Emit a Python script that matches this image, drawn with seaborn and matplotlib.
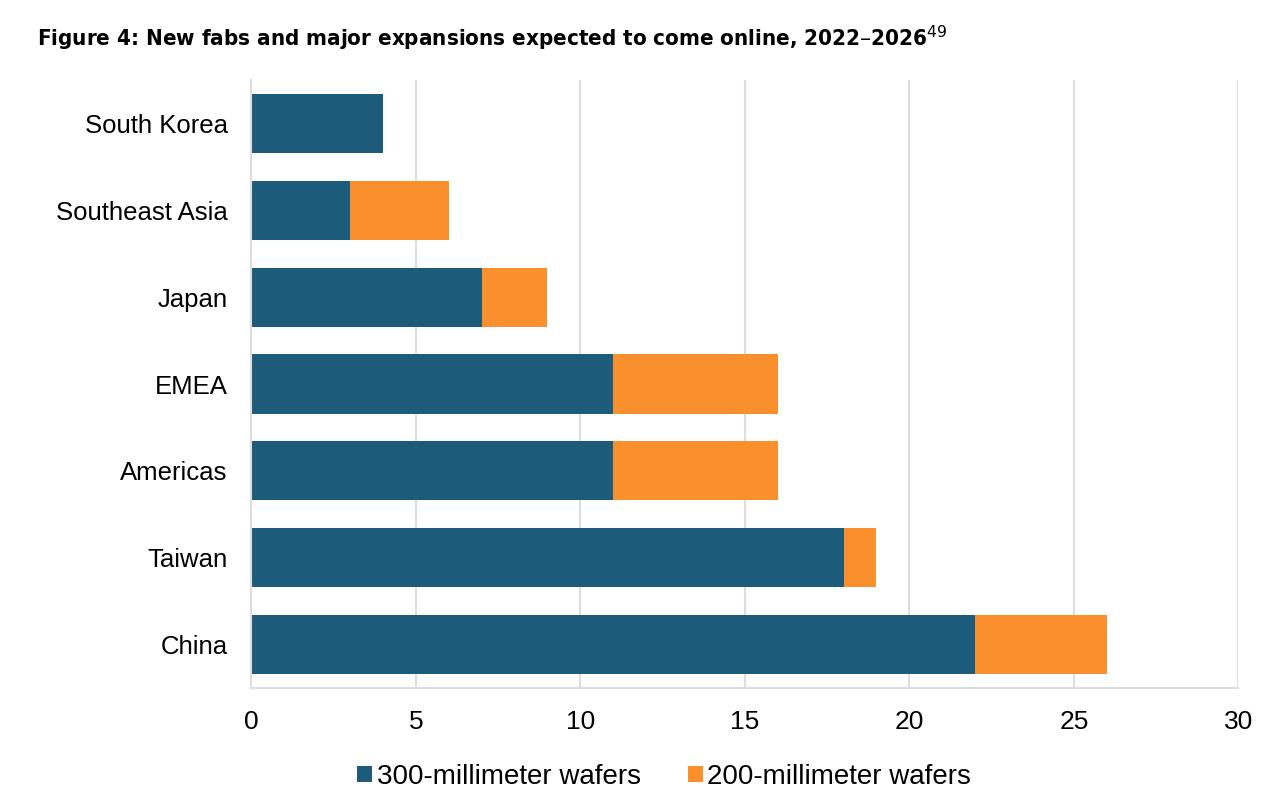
import pandas as pd
import matplotlib.pyplot as plt
import seaborn as sns

regions = ['South Korea', 'Southeast Asia', 'Japan', 'EMEA', 'Americas', 'Taiwan', 'China']
wafers_300 = [4, 3, 7, 11, 11, 18, 22]
wafers_200 = [0, 3, 2, 5, 5, 1, 4]

df = pd.DataFrame({'region': regions, 'w300': wafers_300, 'w200': wafers_200})
df['total'] = df['w300'] + df['w200']

blue = '#1D5B7A'
orange = '#F98F2D'

sns.set_style('white')
plt.rcParams['font.family'] = ['Liberation Sans', 'DejaVu Sans']
plt.rcParams['text.color'] = 'black'
plt.rcParams['xtick.color'] = 'black'
plt.rcParams['ytick.color'] = 'black'

fig = plt.figure(figsize=(12.82, 8), dpi=100)
ax = fig.add_axes([0.196, 0.14, 0.77, 0.76])

# stacked: totals in orange first, then the 300mm part over it
sns.barplot(data=df, y='region', x='total', color=orange, orient='h', width=0.68,
            ax=ax, label='200-millimeter wafers', saturation=1, linewidth=0)
sns.barplot(data=df, y='region', x='w300', color=blue, orient='h', width=0.68,
            ax=ax, label='300-millimeter wafers', saturation=1, linewidth=0)

ax.set_xlim(0, 30)
ax.set_xticks(range(0, 31, 5))
ax.grid(axis='x', color='#DDDDDD', linewidth=1.5)
ax.set_axisbelow(True)
for s in ['top', 'right']:
    ax.spines[s].set_visible(False)
ax.spines['left'].set_color('#DDDDDD')
ax.spines['left'].set_linewidth(1.5)
ax.spines['bottom'].set_color('#DDDDDD')
ax.spines['bottom'].set_linewidth(1.5)
ax.tick_params(axis='x', length=7, width=1.5, color='#DDDDDD', labelsize=19, pad=9)
ax.tick_params(axis='y', length=0, labelsize=18.5, pad=17)
ax.set_xlabel('')
ax.set_ylabel('')

handles, labels = ax.get_legend_handles_labels()
order = [labels.index('300-millimeter wafers'), labels.index('200-millimeter wafers')]
fig.legend([handles[i] for i in order], [labels[i] for i in order], loc='center',
           bbox_to_anchor=(0.518, 0.029), ncol=2, frameon=False, fontsize=20,
           handlelength=0.55, handleheight=0.55, handletextpad=0.15, columnspacing=1.7)
if ax.get_legend():
    ax.get_legend().remove()

fig.text(0.029, 0.952, 'Figure 4: New fabs and major expansions expected to come online, 2022\u20132026$^{49}$',
         fontsize=16, fontweight='bold', ha='left', va='center',
         family=['DejaVu Sans'], fontstretch='condensed')

fig.savefig('out.png', dpi=100)
